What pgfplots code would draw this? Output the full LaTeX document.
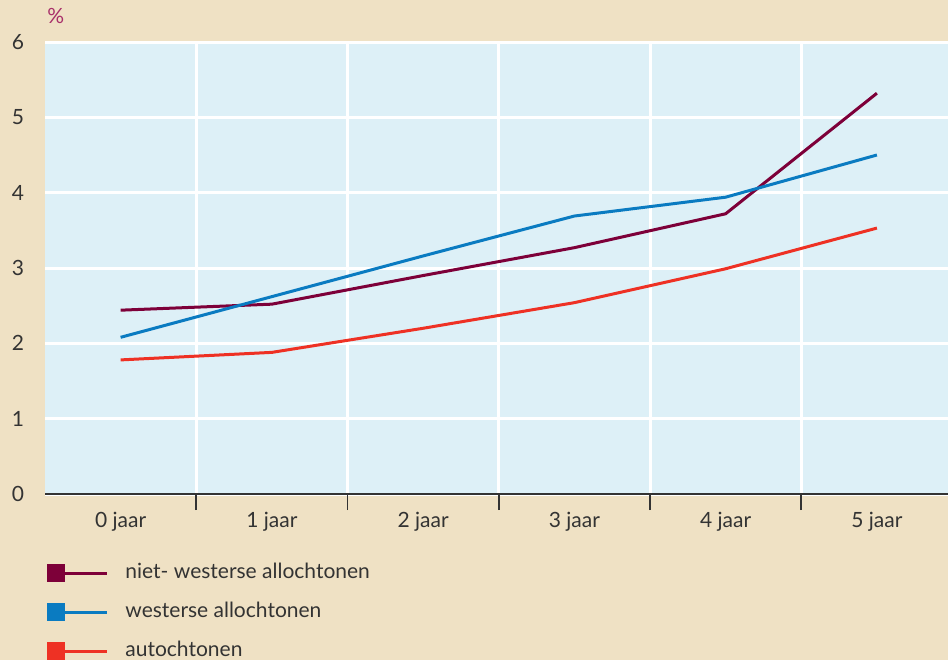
\documentclass[border=0pt]{standalone}
\usepackage{fontspec}
\setmainfont{Lato}
\usepackage{pgfplots}
\pgfplotsset{compat=1.18}
\definecolor{bg}{RGB}{239,225,196}
\definecolor{plotbg}{RGB}{221,240,247}
\definecolor{nw}{RGB}{125,0,57}
\definecolor{wb}{RGB}{10,123,193}
\definecolor{au}{RGB}{238,49,36}
\definecolor{txt}{RGB}{51,51,51}
\definecolor{pc}{RGB}{168,48,106}
\begin{document}
\begin{tikzpicture}
\useasboundingbox (0,0) rectangle (474pt,330pt);
\fill[bg] (0,0) rectangle (474pt,330pt);
\begin{axis}[
  at={(22.5pt,83pt)}, anchor=south west,
  width=451.5pt, height=226pt, scale only axis,
  xmin=-0.5, xmax=5.47, ymin=0, ymax=6,
  axis background/.style={fill=plotbg},
  axis x line=bottom, axis y line=left,
  x axis line style={-, draw=txt, line width=1pt},
  y axis line style={draw=none},
  xtick={0,...,5},
  xticklabels={0 jaar,1 jaar,2 jaar,3 jaar,4 jaar,5 jaar},
  minor xtick={0.5,1.5,2.5,3.5,4.5},
  major tick length=0pt, minor tick length=8pt, tick align=outside,
  minor x tick style={draw=txt, line width=0.8pt},
  xminorgrids, minor x grid style={white, line width=1.5pt},
  ytick={0,...,6}, ymajorgrids, major y grid style={white, line width=1.5pt},
  /pgf/number format/assume math mode=true,
  tick label style={font=\fontsize{10.5}{12}\selectfont, text=txt},
  xticklabel style={yshift=-5.5pt},
  yticklabel style={xshift=-7pt},
  legend image code/.code={\fill (0pt,-3.75pt) rectangle (7.5pt,3.75pt); \draw[line width=1.5pt] (7.5pt,0pt) -- (29pt,0pt);},
  legend style={at={(axis description cs:0,0)}, anchor=north west, xshift=1pt, yshift=-35pt,
    draw=none, fill=none, inner sep=0pt, font=\fontsize{10.5}{12}\selectfont, text=txt,
    row sep=10.5pt, column sep=8.5pt, nodes={inner sep=0pt, text height=7pt, text depth=2pt}},
  legend cell align=left,
  no markers,
  clip=false,
]
\addplot[nw, line width=1.5pt] coordinates {(0,2.44)(1,2.52)(2,2.90)(3,3.27)(4,3.72)(5,5.32)};
\addlegendentry{niet- westerse allochtonen}
\addplot[wb, line width=1.5pt] coordinates {(0,2.08)(1,2.62)(2,3.16)(3,3.69)(4,3.94)(5,4.50)};
\addlegendentry{westerse allochtonen}
\addplot[au, line width=1.5pt] coordinates {(0,1.78)(1,1.88)(2,2.20)(3,2.54)(4,2.99)(5,3.53)};
\addlegendentry{autochtonen}
\node[anchor=base west, text=pc, font=\fontsize{10.5}{12}\selectfont, inner sep=0pt] at (rel axis cs:0,1) [xshift=1pt, yshift=9.5pt] {\%};
\end{axis}
\end{tikzpicture}
\end{document}
